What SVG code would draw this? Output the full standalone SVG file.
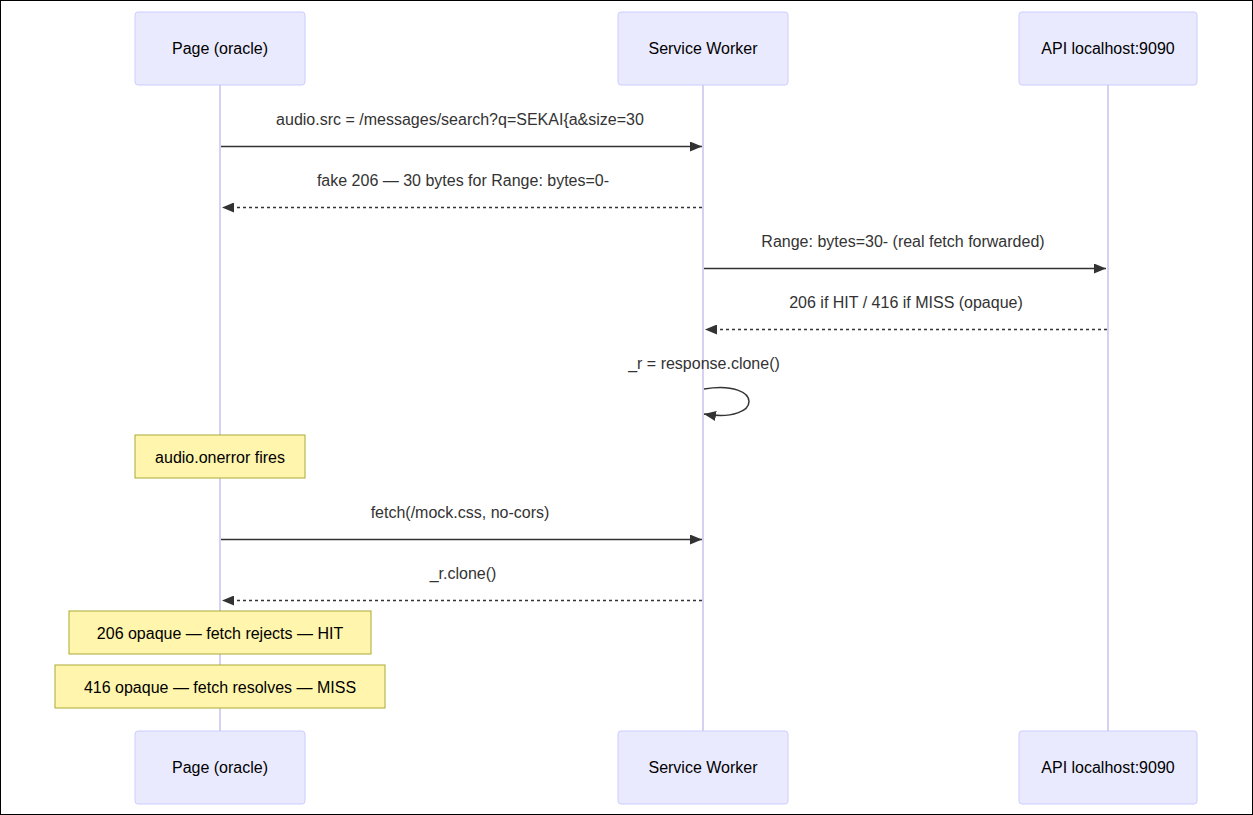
<svg xmlns="http://www.w3.org/2000/svg" width="1253" height="815" viewBox="0 0 1253 815">
<style>
text{font-family:"Liberation Sans",Arial,sans-serif;font-size:16px;fill:#333;text-anchor:middle}
.actor{fill:#eaeaff;stroke:#ccccff;stroke-width:1}
.actor text,.atext{fill:#000;dominant-baseline:central}
.life{stroke:#d8d0f0;stroke-width:2}
.msg{stroke:#333;stroke-width:1.5;fill:none}
.dash{stroke-dasharray:3,3}
.note{fill:#fff5ad;stroke:#aaaa33;stroke-width:1}
.ntext{fill:#000;dominant-baseline:central}
</style>
<defs>
<marker id="arr" viewBox="0 0 12 10" refX="12" refY="5" markerWidth="12" markerHeight="10" orient="auto" markerUnits="userSpaceOnUse"><path d="M0,0L12,5L0,10z" fill="#333"/></marker>
</defs>
<rect x="0.5" y="0.5" width="1252" height="814" fill="#fff" stroke="#000"/>
<g id="lifelines">
<line class="life" x1="220" y1="85" x2="220" y2="731"/>
<line class="life" x1="703" y1="85" x2="703" y2="731"/>
<line class="life" x1="1108" y1="85" x2="1108" y2="731"/>
</g>
<g id="actor-page-top"><rect class="actor" x="135" y="12" width="170" height="73" rx="3"/><text class="atext" x="220" y="48.5">Page (oracle)</text></g>
<g id="actor-sw-top"><rect class="actor" x="618" y="12" width="170" height="73" rx="3"/><text class="atext" x="703" y="48.5">Service Worker</text></g>
<g id="actor-api-top"><rect class="actor" x="1019" y="12" width="178" height="73" rx="3"/><text class="atext" x="1108" y="48.5">API localhost:9090</text></g>
<g id="actor-page-bottom"><rect class="actor" x="135" y="731" width="170" height="73" rx="3"/><text class="atext" x="220" y="767.5">Page (oracle)</text></g>
<g id="actor-sw-bottom"><rect class="actor" x="618" y="731" width="170" height="73" rx="3"/><text class="atext" x="703" y="767.5">Service Worker</text></g>
<g id="actor-api-bottom"><rect class="actor" x="1019" y="731" width="178" height="73" rx="3"/><text class="atext" x="1108" y="767.5">API localhost:9090</text></g>
<g id="connectors">
<text x="460" y="125">audio.src = /messages/search?q=SEKAI{a&amp;size=30</text>
<line class="msg" x1="221" y1="146.5" x2="702" y2="146.5" marker-end="url(#arr)"/>
<text x="463" y="186">fake 206 — 30 bytes for Range: bytes=0-</text>
<line class="msg dash" x1="702" y1="207.5" x2="222" y2="207.5" marker-end="url(#arr)"/>
<text x="903" y="247">Range: bytes=30- (real fetch forwarded)</text>
<line class="msg" x1="704" y1="268.5" x2="1106" y2="268.5" marker-end="url(#arr)"/>
<text x="906" y="308">206 if HIT / 416 if MISS (opaque)</text>
<line class="msg dash" x1="1107" y1="329.5" x2="705" y2="329.5" marker-end="url(#arr)"/>
<text x="704" y="369">_r = response.clone()</text>
<path class="msg" d="M704,389 C764,379 764,424 704,414" marker-end="url(#arr)"/>
<text x="460" y="518">fetch(/mock.css, no-cors)</text>
<line class="msg" x1="221" y1="539.5" x2="702" y2="539.5" marker-end="url(#arr)"/>
<text x="463" y="579">_r.clone()</text>
<line class="msg dash" x1="702" y1="600.5" x2="222" y2="600.5" marker-end="url(#arr)"/>
</g>
<g id="note-onerror"><rect class="note" x="135" y="435" width="170" height="43"/><text class="ntext" x="220" y="457">audio.onerror fires</text></g>
<g id="note-hit"><rect class="note" x="69" y="611" width="302" height="43"/><text class="ntext" x="220" y="633">206 opaque — fetch rejects — HIT</text></g>
<g id="note-miss"><rect class="note" x="55" y="665" width="330" height="43"/><text class="ntext" x="220" y="687">416 opaque — fetch resolves — MISS</text></g>
</svg>
